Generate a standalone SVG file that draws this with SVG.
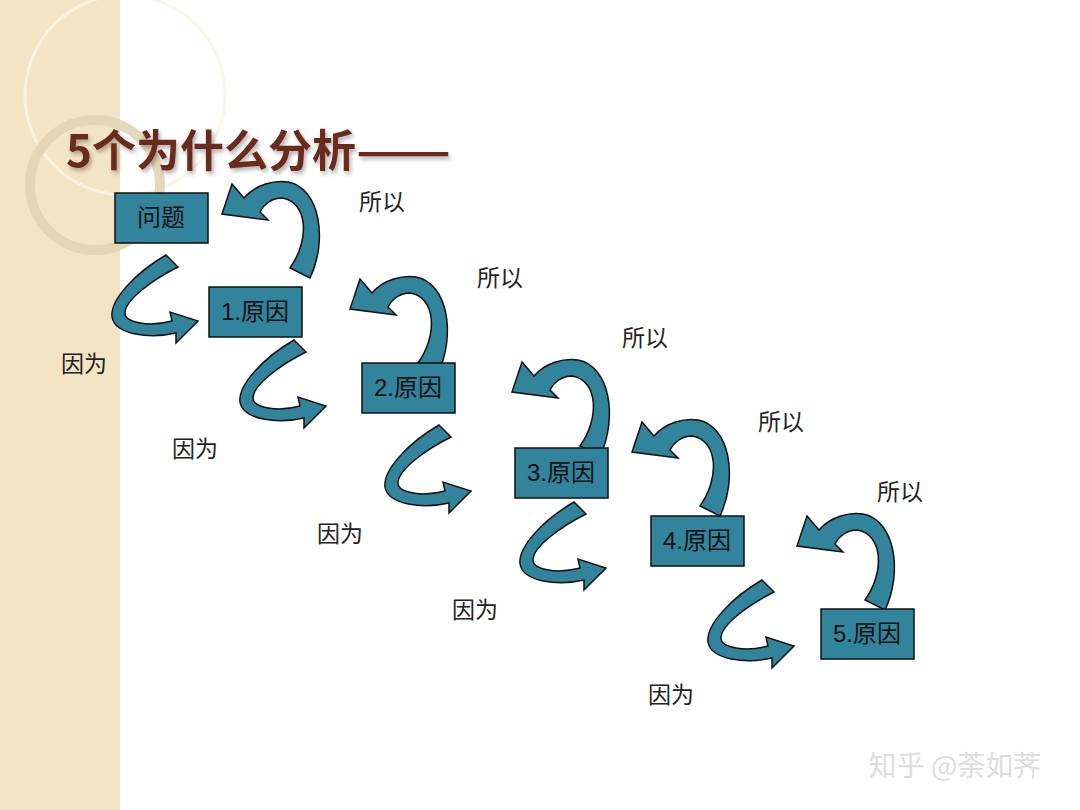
<svg xmlns="http://www.w3.org/2000/svg" width="1080" height="810" viewBox="0 0 1080 810">
<style>
.box{fill:#31849b;stroke:#111;stroke-width:1.5}
.bt{font-family:"Liberation Sans","Noto Sans CJK SC",sans-serif;font-size:24px;fill:#111;text-anchor:middle}
.lb{font-family:"Noto Sans CJK SC",sans-serif;font-size:23px;fill:#222;text-anchor:middle}
.ar{fill:#31849b;stroke:#111;stroke-width:1.5}
</style>
<defs>
<path id="down" class="ar" d="M56,0 L68,12 C42,25 15,45 15,58 C15,68 40,72 62,66 L60,57 L88,66 L66,88 L66,78 C40,84 5,80 2,62 C0,45 25,18 56,0 Z"/>
<path id="up" class="ar" d="M70,88 C90,60 88,22 62,18 C52,18 44,24 40,32 L48,40 L2,34 L12,4 L24,18 C36,4 55,0 68,2 C100,8 108,60 90,98 Z"/>
<filter id="sh" x="-5%" y="-20%" width="110%" height="150%"><feDropShadow dx="2" dy="3" stdDeviation="2" flood-color="#000" flood-opacity="0.3"/></filter>
</defs>
<rect width="1080" height="810" fill="#fff"/>
<rect width="120" height="810" fill="#f3e4c6"/>
<g fill="none" stroke="#fbf4e6" stroke-width="3" opacity="0.9">
<circle cx="125" cy="95" r="100"/>
<circle cx="95" cy="185" r="65" stroke="#e2d4b4" stroke-width="10"/>
</g>
<text x="66" y="167" font-family="Noto Sans CJK SC,sans-serif" font-size="44" font-weight="bold" fill="#6a2a1a" filter="url(#sh)">5个为什么分析<tspan textLength="95" lengthAdjust="spacingAndGlyphs">——</tspan></text>
<g id="connectors">
<use href="#down" x="110" y="255"/>
<use href="#down" x="238" y="340"/>
<use href="#down" x="383" y="425"/>
<use href="#down" x="518" y="502"/>
<use href="#down" x="706" y="580"/>
<use href="#up" x="220" y="180"/>
<use href="#up" x="348" y="275"/>
<use href="#up" x="510" y="358"/>
<use href="#up" x="630" y="418"/>
<use href="#up" x="795" y="512"/>
</g>
<g id="n0"><rect class="box" x="115" y="193" width="93" height="50"/><text class="bt" x="161" y="226">问题</text></g>
<g id="n1"><rect class="box" x="209" y="287" width="93" height="50"/><text class="bt" x="255" y="320">1.原因</text></g>
<g id="n2"><rect class="box" x="362" y="363" width="93" height="50"/><text class="bt" x="408" y="396">2.原因</text></g>
<g id="n3"><rect class="box" x="515" y="448" width="93" height="50"/><text class="bt" x="561" y="481">3.原因</text></g>
<g id="n4"><rect class="box" x="651" y="516" width="93" height="50"/><text class="bt" x="697" y="549">4.原因</text></g>
<g id="n5"><rect class="box" x="821" y="609" width="93" height="50"/><text class="bt" x="867" y="642">5.原因</text></g>
<g id="labels">
<text class="lb" x="382" y="210">所以</text>
<text class="lb" x="500" y="286">所以</text>
<text class="lb" x="645" y="346">所以</text>
<text class="lb" x="781" y="430">所以</text>
<text class="lb" x="900" y="500">所以</text>
<text class="lb" x="84" y="372">因为</text>
<text class="lb" x="195" y="457">因为</text>
<text class="lb" x="340" y="542">因为</text>
<text class="lb" x="475" y="618">因为</text>
<text class="lb" x="671" y="703">因为</text>
</g>
<text x="955" y="776" font-family="Noto Sans CJK SC,sans-serif" font-size="28" fill="#ddd" text-anchor="middle">知乎 @荼如荠</text>
</svg>
